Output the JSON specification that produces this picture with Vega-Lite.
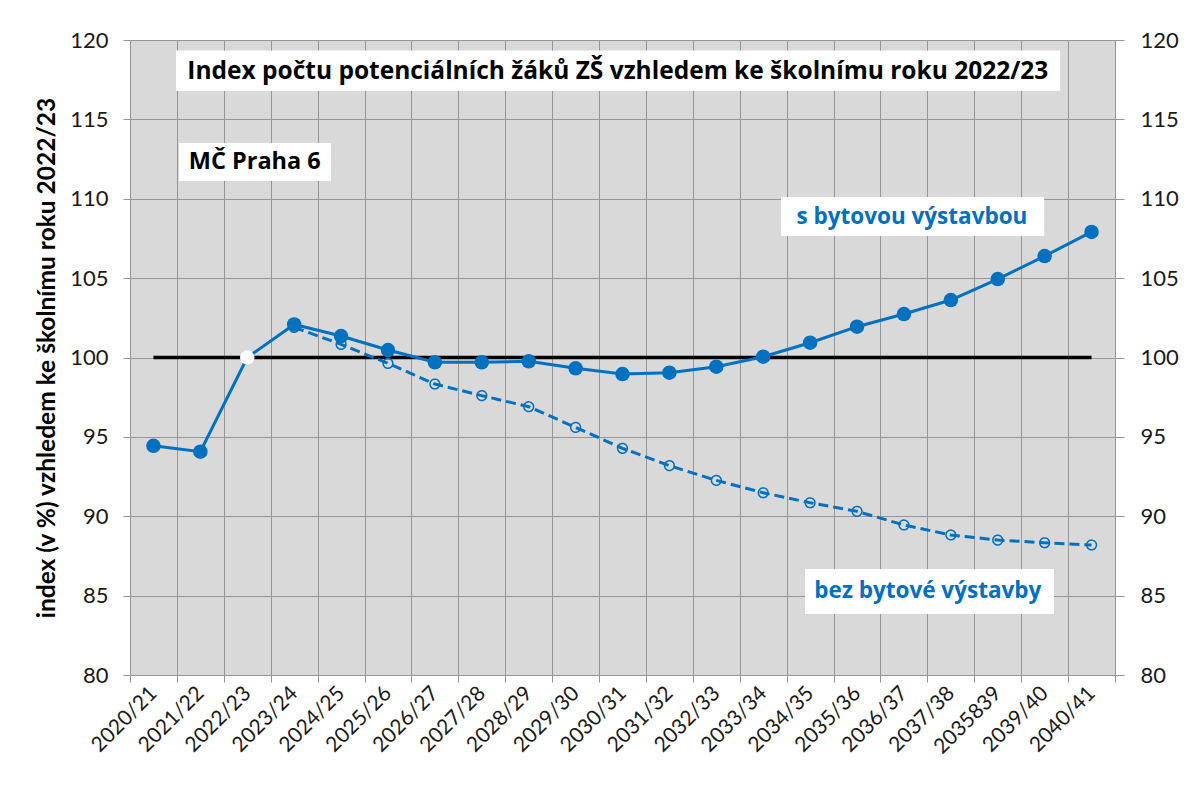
{
  "$schema": "https://vega.github.io/schema/vega-lite/v6.json",
  "width": 985,
  "height": 635,
  "autosize": {"type": "none"},
  "padding": {"left": 130, "top": 40, "right": 88, "bottom": 112},
  "background": "white",
  "config": {"view": {"fill": "#d9d9d9", "stroke": null}, "font": "Lato"},
  "datasets": {
    "series": [
      {"season": "2020/21", "s": 94.44, "b": null, "base": 100},
      {"season": "2021/22", "s": 94.07, "b": null, "base": 100},
      {"season": "2022/23", "s": 100.0, "b": null, "base": 100},
      {"season": "2023/24", "s": 102.08, "b": 101.9, "base": 100},
      {"season": "2024/25", "s": 101.35, "b": 100.83, "base": 100},
      {"season": "2025/26", "s": 100.47, "b": 99.63, "base": 100},
      {"season": "2026/27", "s": 99.7, "b": 98.33, "base": 100},
      {"season": "2027/28", "s": 99.7, "b": 97.6, "base": 100},
      {"season": "2028/29", "s": 99.76, "b": 96.9, "base": 100},
      {"season": "2029/30", "s": 99.32, "b": 95.6, "base": 100},
      {"season": "2030/31", "s": 98.96, "b": 94.28, "base": 100},
      {"season": "2031/32", "s": 99.04, "b": 93.19, "base": 100},
      {"season": "2032/33", "s": 99.42, "b": 92.26, "base": 100},
      {"season": "2033/34", "s": 100.05, "b": 91.48, "base": 100},
      {"season": "2034/35", "s": 100.93, "b": 90.85, "base": 100},
      {"season": "2035/36", "s": 101.94, "b": 90.31, "base": 100},
      {"season": "2036/37", "s": 102.74, "b": 89.45, "base": 100},
      {"season": "2037/38", "s": 103.62, "b": 88.82, "base": 100},
      {"season": "2035839", "s": 104.94, "b": 88.5, "base": 100},
      {"season": "2039/40", "s": 106.39, "b": 88.33, "base": 100},
      {"season": "2040/41", "s": 107.91, "b": 88.19, "base": 100}
    ],
    "notes": [
      {"label": "Index počtu potenciálních  žáků ZŠ vzhledem ke školnímu roku 2022/23", "group": "title", "x0": 0.98, "x1": 19.83, "xc": 10.4, "y0": 116.79, "y1": 119.34, "yc": 117.98},
      {"label": "MČ Praha 6", "group": "place", "x0": 1.045, "x1": 4.285, "xc": 2.66, "y0": 111.12, "y1": 113.51, "yc": 112.31},
      {"label": "s bytovou  výstavbou", "group": "series", "x0": 13.88, "x1": 19.49, "xc": 16.67, "y0": 107.65, "y1": 110.11, "yc": 108.85},
      {"label": "bez bytové  výstavby", "group": "series", "x0": 14.39, "x1": 19.7, "xc": 17.01, "y0": 83.84, "y1": 86.68, "yc": 85.29}
    ]
  },
  "layer": [
    {
      "data": {"name": "series"},
      "mark": {"type": "line", "color": "#000000", "strokeWidth": 3.5},
      "encoding": {
        "x": {
          "field": "season", "type": "ordinal", "bandPosition": 0.5,
          "scale": {"type": "band", "paddingInner": 0, "paddingOuter": 0,
            "domain": ["2020/21","2021/22","2022/23","2023/24","2024/25","2025/26","2026/27","2027/28","2028/29","2029/30","2030/31","2031/32","2032/33","2033/34","2034/35","2035/36","2036/37","2037/38","2035839","2039/40","2040/41"]},
          "axis": {
            "title": null, "labelAngle": -45, "labelAlign": "right", "labelBaseline": "middle",
            "tickBand": "extent", "grid": true, "gridColor": "#969696", "gridWidth": 1,
            "domainColor": "#969696", "tickColor": "#969696", "tickSize": 7,
            "labelFontSize": 21, "labelColor": "#1a1a1a", "labelPadding": 8
          }
        },
        "y": {
          "field": "base", "type": "quantitative",
          "scale": {"domain": [80, 120], "nice": false, "zero": false},
          "axis": {
            "title": "index (v %) vzhledem ke školnímu  roku 2022/23",
            "titleFont": "Lato", "titleFontWeight": "bold", "titleFontSize": 24.5, "titleColor": "#000000", "titlePadding": 10, "titleLimit": 700,
            "values": [80, 85, 90, 95, 100, 105, 110, 115, 120],
            "grid": true, "gridColor": "#969696", "gridWidth": 1,
            "domainColor": "#969696", "tickColor": "#969696", "tickSize": 7,
            "labelFontSize": 22, "labelColor": "#1a1a1a", "labelPadding": 15
          }
        }
      }
    },
    {
      "data": {"name": "series"},
      "mark": {"type": "line", "color": "#0070c0", "strokeWidth": 3, "strokeDash": [10, 5],
        "point": {"filled": false, "size": 95, "strokeWidth": 1.5, "color": "#0070c0", "strokeDash": [1, 0]}},
      "encoding": {
        "x": {
          "field": "season", "type": "ordinal", "bandPosition": 0.5,
          "scale": {"type": "band", "paddingInner": 0, "paddingOuter": 0,
            "domain": ["2020/21","2021/22","2022/23","2023/24","2024/25","2025/26","2026/27","2027/28","2028/29","2029/30","2030/31","2031/32","2032/33","2033/34","2034/35","2035/36","2036/37","2037/38","2035839","2039/40","2040/41"]},
          "axis": null
        },
        "y": {"field": "b", "type": "quantitative", "axis": null}
      }
    },
    {
      "data": {"name": "series"},
      "mark": {"type": "line", "color": "#0070c0", "strokeWidth": 3},
      "encoding": {
        "x": {
          "field": "season", "type": "ordinal", "bandPosition": 0.5,
          "scale": {"type": "band", "paddingInner": 0, "paddingOuter": 0,
            "domain": ["2020/21","2021/22","2022/23","2023/24","2024/25","2025/26","2026/27","2027/28","2028/29","2029/30","2030/31","2031/32","2032/33","2033/34","2034/35","2035/36","2036/37","2037/38","2035839","2039/40","2040/41"]},
          "axis": null
        },
        "y": {
          "field": "s", "type": "quantitative",
          "axis": {
            "orient": "right", "title": null,
            "values": [80, 85, 90, 95, 100, 105, 110, 115, 120],
            "grid": false, "domainColor": "#969696", "tickColor": "#969696", "tickSize": 9,
            "labelFontSize": 22, "labelColor": "#1a1a1a", "labelPadding": 16
          }
        }
      }
    },
    {
      "data": {"name": "series"},
      "mark": {"type": "point", "filled": true, "size": 210, "opacity": 1},
      "encoding": {
        "x": {
          "field": "season", "type": "ordinal", "bandPosition": 0.5,
          "scale": {"type": "band", "paddingInner": 0, "paddingOuter": 0,
            "domain": ["2020/21","2021/22","2022/23","2023/24","2024/25","2025/26","2026/27","2027/28","2028/29","2029/30","2030/31","2031/32","2032/33","2033/34","2034/35","2035/36","2036/37","2037/38","2035839","2039/40","2040/41"]},
          "axis": null
        },
        "y": {"field": "s", "type": "quantitative", "axis": null},
        "color": {"condition": {"test": "datum.season === '2022/23'", "value": "#ffffff"}, "value": "#0070c0"}
      }
    },
    {
      "data": {"name": "notes"},
      "mark": {"type": "rect", "fill": "#ffffff"},
      "encoding": {
        "x": {"field": "x0", "type": "quantitative", "scale": {"domain": [0, 21], "nice": false, "zero": true}, "axis": null},
        "x2": {"field": "x1"},
        "y": {"field": "y0", "type": "quantitative", "axis": null},
        "y2": {"field": "y1"}
      }
    },
    {
      "data": {"name": "notes"},
      "mark": {"type": "text", "font": "Open Sans", "fontWeight": "bold", "align": "center", "baseline": "middle"},
      "encoding": {
        "x": {"field": "xc", "type": "quantitative", "scale": {"domain": [0, 21], "nice": false, "zero": true}, "axis": null},
        "y": {"field": "yc", "type": "quantitative", "axis": null},
        "text": {"field": "label"},
        "color": {"field": "group", "type": "nominal", "scale": {"domain": ["title", "place", "series"], "range": ["#000000", "#000000", "#0070c0"]}, "legend": null},
        "size": {"field": "group", "type": "nominal", "scale": {"domain": ["title", "place", "series"], "range": [24.5, 22.5, 20.2]}, "legend": null}
      }
    }
  ],
  "resolve": {"scale": {"x": "independent"}, "axis": {"y": "independent"}}
}
